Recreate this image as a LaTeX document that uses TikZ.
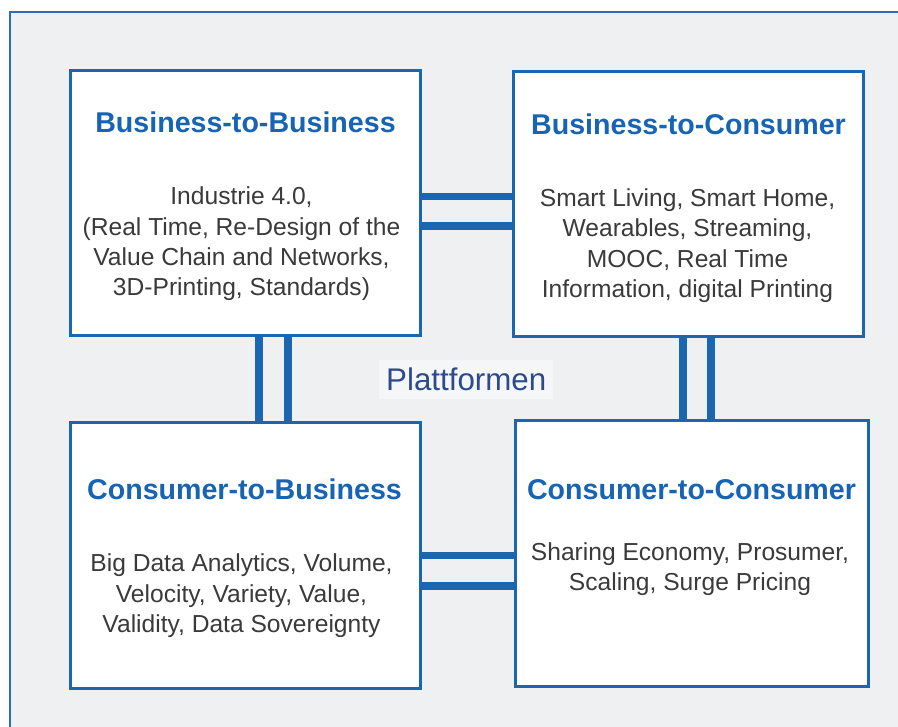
\documentclass[tikz,border=0pt]{standalone}
\usepackage{fontspec}
\setmainfont{Liberation Sans}
\definecolor{framebg}{HTML}{EFF0F2}
\definecolor{frameblue}{HTML}{2A6DB5}
\definecolor{boxblue}{HTML}{1A66B0}
\definecolor{titleblue}{HTML}{1864B4}
\definecolor{bodygray}{HTML}{3A3A3A}
\definecolor{platblue}{HTML}{2C4A8C}
\definecolor{labelbg}{HTML}{F5F6F7}
\tikzset{
  panel/.style={draw=boxblue, line width=3pt, fill=white, rectangle, inner sep=0pt, minimum height=265pt},
  paneltitle/.style={anchor=base, inner sep=0pt, text=titleblue, font=\fontsize{28.6}{34}\selectfont\bfseries},
  panelbody/.style={anchor=base, inner sep=0pt, text=bodygray, font=\fontsize{24.6}{30.3}\selectfont},
  bar/.style={draw=boxblue, line width=8pt},
  hbar/.style={draw=boxblue, line width=7.5pt}
}
\newcommand{\lines}[1]{\begin{tabular}[t]{@{}c@{}}#1\end{tabular}}
\begin{document}
\begin{tikzpicture}[x=1pt,y=-1pt]
\useasboundingbox (0,0) rectangle (898,727);
\fill[white] (0,0) rectangle (898,727);
\fill[framebg] (10,12) rectangle (900,729);
\draw[frameblue, line width=2pt] (10,729) -- (10,12) -- (900,12);

% panels
\node[panel, minimum width=350pt] (b2b) at (245.5,202.75) {};
\node[panel, minimum width=350pt] (b2c) at (688,204.5) {};
\node[panel, minimum width=349.5pt] (c2b) at (245.25,555.5) {};
\node[panel, minimum width=353pt] (c2c) at (691.5,553.5) {};

% connectors
\draw[hbar] (b2b.east |- 0,196.5) -- (b2c.west |- 0,196.5);
\draw[hbar] (b2b.east |- 0,226) -- (b2c.west |- 0,226);
\draw[hbar] (c2b.east |- 0,555.5) -- (c2c.west |- 0,555.5);
\draw[hbar] (c2b.east |- 0,586) -- (c2c.west |- 0,586);
\draw[bar] (b2b.south -| 259,0) -- (c2b.north -| 259,0);
\draw[bar] (b2b.south -| 287.5,0) -- (c2b.north -| 287.5,0);
\draw[bar] (b2c.south -| 682.5,0) -- (c2c.north -| 682.5,0);
\draw[bar] (b2c.south -| 711,0) -- (c2c.north -| 711,0);

% titles
\node[paneltitle] (t1) at (245.5,133) {Business-to-Business};
\node[paneltitle] (t2) at (688.5,135) {Business-to-Consumer};
\node[paneltitle] (t3) at (244.5,500) {Consumer-to-Business};
\node[paneltitle] (t4) at (691.5,500) {Consumer-to-Consumer};

% bodies
\node[panelbody] (x1) at (241.5,205) {\lines{Industrie 4.0,\\(Real Time, Re-Design of the\\Value Chain and Networks,\\3D-Printing, Standards)}};
\node[panelbody] (x2) at (687.5,206.5) {\lines{Smart Living, Smart Home,\\Wearables, Streaming,\\MOOC, Real Time\\Information, digital Printing}};
\node[panelbody] (x3) at (241.5,572) {\lines{Big Data Analytics, Volume,\\Velocity, Variety, Value,\\Validity, Data Sovereignty}};
\node[panelbody] (x4) at (690,560) {\lines{Sharing Economy, Prosumer,\\Scaling, Surge Pricing}};

% centre label
\node[anchor=base west, fill=labelbg, inner xsep=7pt, inner ysep=8pt, text=platblue, font=\fontsize{31.3}{36}\selectfont] (plat) at (379,391) {Plattformen};
\end{tikzpicture}
\end{document}
